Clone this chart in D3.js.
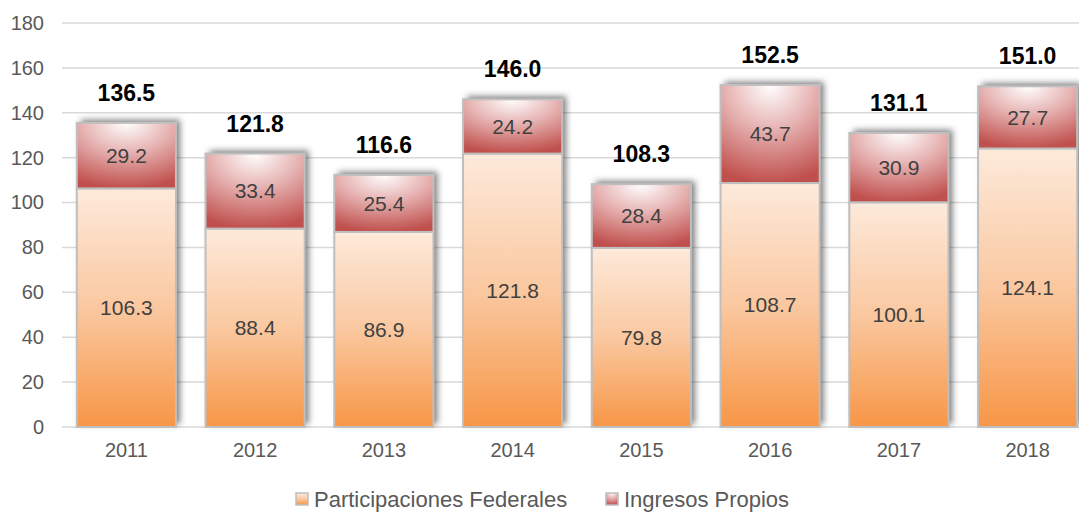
<!DOCTYPE html>
<html>
<head>
<meta charset="utf-8">
<script src="https://cdn.jsdelivr.net/npm/d3@7"></script>
<style>
  body { margin: 0; background: #fff; }
  svg { display: block; font-family: "Liberation Sans", Arial, sans-serif; }
</style>
</head>
<body>
<script>
// datos
var anios = ["2011", "2012", "2013", "2014", "2015", "2016", "2017", "2018"];
var participaciones = [106.3, 88.4, 86.9, 121.8, 79.8, 108.7, 100.1, 124.1];
var ingresosPropios = [29.2, 33.4, 25.4, 24.2, 28.4, 43.7, 30.9, 27.7];
var totales = ["136.5", "121.8", "116.6", "146.0", "108.3", "152.5", "131.1", "151.0"];
var ticksY = [0, 20, 40, 60, 80, 100, 120, 140, 160, 180];
var series = ["Participaciones Federales", "Ingresos Propios"];

var width = 1079, height = 512;
var marges = { top: 23, right: 0, bottom: 85, left: 62 };

var svg = d3.select("body").append("svg")
  .attr("width", width)
  .attr("height", height);

var defs = svg.append("defs");

var gOr = defs.append("linearGradient").attr("id", "gradOrange")
  .attr("x1", 0).attr("y1", 0).attr("x2", 0).attr("y2", 1);
gOr.append("stop").attr("offset", "0%").attr("stop-color", "#fdeadb");
gOr.append("stop").attr("offset", "50%").attr("stop-color", "#fac8a0");
gOr.append("stop").attr("offset", "100%").attr("stop-color", "#f79646");

var gRo = defs.append("radialGradient").attr("id", "gradRojo")
  .attr("cx", "50%").attr("cy", "0%").attr("r", "100%").attr("fx", "50%").attr("fy", "0%");
gRo.append("stop").attr("offset", "0%").attr("stop-color", "#ffffff");
gRo.append("stop").attr("offset", "45%").attr("stop-color", "#e6b3b2");
gRo.append("stop").attr("offset", "100%").attr("stop-color", "#c0504d");

var filtre = defs.append("filter").attr("id", "ombre")
  .attr("x", "-20%").attr("y", "-20%").attr("width", "140%").attr("height", "140%");
filtre.append("feDropShadow").attr("dx", 4).attr("dy", -3)
  .attr("stdDeviation", 3).attr("flood-color", "#000").attr("flood-opacity", 0.5);

var x = d3.scaleBand()
  .domain(anios)
  .range([marges.left, 1092])
  .paddingInner(0.23)
  .paddingOuter(0.115);

var y = d3.scaleLinear()
  .domain([0, 180])
  .range([height - marges.bottom, marges.top]);

// grille
svg.append("g").selectAll("line").data(ticksY).enter().append("line")
  .attr("x1", marges.left).attr("x2", width)
  .attr("y1", d => y(d)).attr("y2", d => y(d))
  .attr("stroke", "#d9d9d9").attr("stroke-width", 1.5);

// axe Y
var axeY = d3.axisLeft(y).tickValues(ticksY).tickSize(0).tickPadding(18);
svg.append("g")
  .attr("transform", "translate(" + marges.left + ",0)")
  .call(axeY)
  .call(g => g.select(".domain").remove())
  .call(g => g.attr("font-size", 20).attr("font-family", null))
  .selectAll("text")
  .attr("fill", "#595959");

// axe X
var axeX = d3.axisBottom(x).tickSize(0).tickPadding(16);
svg.append("g")
  .attr("transform", "translate(0," + y(0) + ")")
  .call(axeX)
  .call(g => g.select(".domain").remove())
  .call(g => g.attr("font-size", 20).attr("font-family", null))
  .selectAll("text")
  .attr("fill", "#595959");

var donnees = anios.map(function(a, i) {
  return { annee: a, p: participaciones[i], r: ingresosPropios[i], total: totales[i] };
});

var barres = svg.append("g").selectAll("g").data(donnees).enter().append("g");

// ombre sous la barre entiere
barres.append("rect")
  .attr("x", d => x(d.annee))
  .attr("y", d => y(d.p + d.r))
  .attr("width", x.bandwidth())
  .attr("height", d => y(0) - y(d.p + d.r))
  .attr("fill", "#fff")
  .attr("filter", "url(#ombre)");

barres.append("rect")
  .attr("x", d => x(d.annee))
  .attr("y", d => y(d.p))
  .attr("width", x.bandwidth())
  .attr("height", d => y(0) - y(d.p))
  .attr("fill", "url(#gradOrange)")
  .attr("stroke", "#bfbfbf").attr("stroke-width", 2);

barres.append("rect")
  .attr("x", d => x(d.annee))
  .attr("y", d => y(d.p + d.r))
  .attr("width", x.bandwidth())
  .attr("height", d => y(d.p) - y(d.p + d.r))
  .attr("fill", "url(#gradRojo)")
  .attr("stroke", "#bfbfbf").attr("stroke-width", 2);

barres.append("text")
  .attr("x", d => x(d.annee) + x.bandwidth() / 2)
  .attr("y", d => y(d.p / 2))
  .attr("dy", "0.35em")
  .attr("text-anchor", "middle")
  .attr("font-size", 21).attr("fill", "#404040")
  .text(d => d.p.toFixed(1));

barres.append("text")
  .attr("x", d => x(d.annee) + x.bandwidth() / 2)
  .attr("y", d => y(d.p + d.r / 2))
  .attr("dy", "0.35em")
  .attr("text-anchor", "middle")
  .attr("font-size", 21).attr("fill", "#404040")
  .text(d => d.r.toFixed(1));

barres.append("text")
  .attr("x", d => x(d.annee) + x.bandwidth() / 2)
  .attr("y", d => y(d.p + d.r) - 22)
  .attr("text-anchor", "middle")
  .attr("font-size", 23).attr("font-weight", "bold").attr("fill", "#000")
  .text(d => d.total);

// legende
var legende = svg.append("g").attr("transform", "translate(0,499)");
var posLeg = [296, 606];
var fills = ["url(#gradOrange)", "url(#gradRojo)"];
series.forEach(function(s, i) {
  legende.append("rect")
    .attr("x", posLeg[i]).attr("y", -6).attr("width", 12).attr("height", 12)
    .attr("fill", fills[i]).attr("stroke", "#bfbfbf").attr("stroke-width", 1.5);
  legende.append("text")
    .attr("x", posLeg[i] + 18).attr("y", 0).attr("dy", "0.35em")
    .attr("font-size", 22).attr("fill", "#595959")
    .text(s);
});
</script>
</body>
</html>
